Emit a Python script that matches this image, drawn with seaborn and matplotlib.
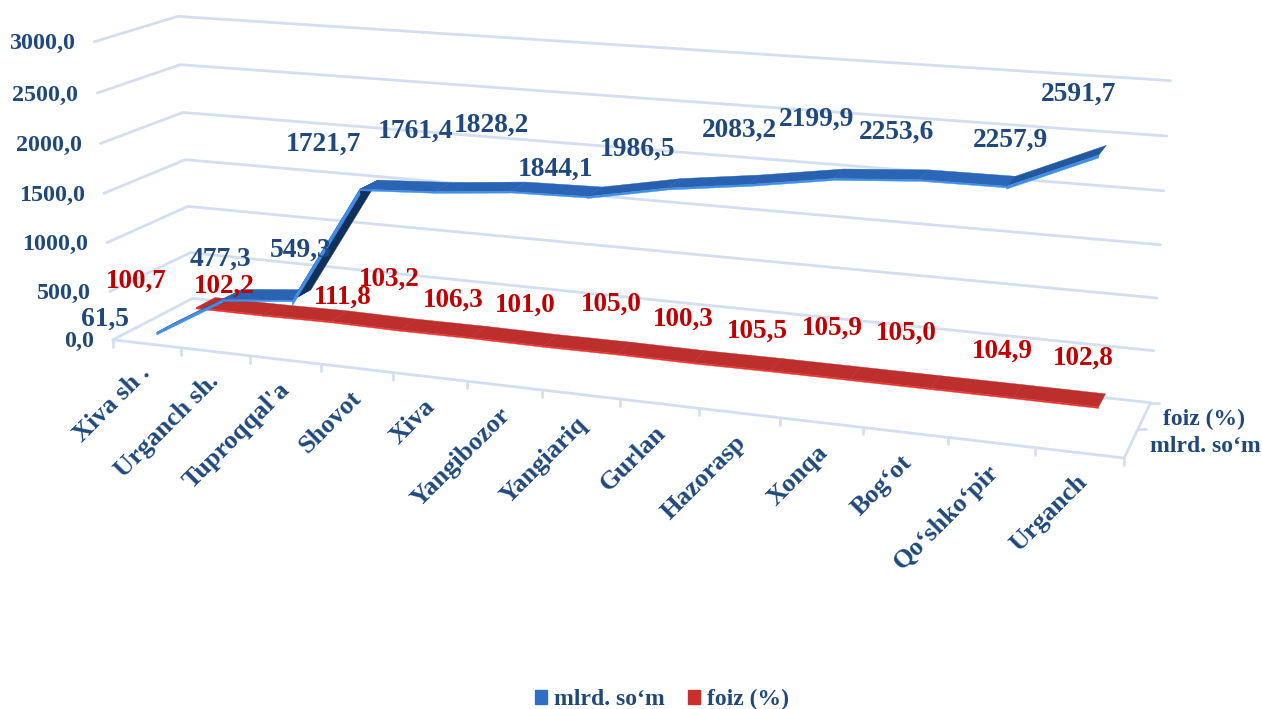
import matplotlib
matplotlib.use("Agg")
import matplotlib.pyplot as plt
from matplotlib.colors import to_rgb
from matplotlib.patches import Patch
import seaborn as sns
import numpy as np
import pandas as pd

categories = ["Xiva sh .", "Urganch sh.", "Tuproqqal'a", "Shovot", "Xiva", "Yangibozor", "Yangiariq",
              "Gurlan", "Hazorasp", "Xonqa", "Bog‘ot", "Qo‘shko‘pir", "Urganch"]
mlrd_som = [61.5, 477.3, 549.3, 1721.7, 1761.4, 1828.2, 1844.1, 1986.5, 2083.2, 2199.9, 2253.6, 2257.9, 2591.7]
foiz = [100.7, 102.2, 111.8, 103.2, 106.3, 101.0, 105.0, 100.3, 105.5, 105.9, 105.0, 104.9, 102.8]
y_ticks = [0, 500, 1000, 1500, 2000, 2500, 3000]
series_names = ["mlrd. so‘m", "foiz (%)"]

# where the label text sits on the picture, in pixels
mlrd_label_pos = [(105, 317), (221, 257), (301, 248), (323, 142), (416, 129), (491, 123), (556, 167),
                  (638, 147), (739, 128), (817, 117), (897, 130), (1011, 138), (1079, 92)]
foiz_label_pos = [(136, 279), (224, 284), (343, 295), (389, 277), (453, 298), (525, 303), (611, 302),
                  (683, 317), (757, 329), (832, 326), (906, 331), (1002, 349), (1083, 356)]

NAVY = "#1f497d"
DARKRED = "#c00000"
GRID = "#d3dff1"
FONT = "Liberation Serif"
TEXT_DY = 2  # matplotlib centres on the box, the ink sits a bit lower in the reference

# Excel 3D box: fit one camera matrix to the corners
# (category position, value, depth) -> pixel
anchors = [
    (0, 0, 0, 113, 339), (0, 500, 0, 109, 291), (0, 1000, 0, 107, 242), (0, 1500, 0, 104, 193),
    (0, 2000, 0, 101, 143), (0, 2500, 0, 97, 93), (0, 3000, 0, 94, 42),
    (0, 0, 2, 193, 298), (0, 500, 2, 190, 252), (0, 1000, 2, 188, 207), (0, 1500, 2, 185, 160),
    (0, 2000, 2, 183, 113), (0, 2500, 2, 180, 65), (0, 3000, 2, 178, 16),
    (13, 0, 2, 1150, 402), (13, 500, 2, 1154, 351), (13, 1000, 2, 1157, 298), (13, 1500, 2, 1161, 244),
    (13, 2000, 2, 1164, 191), (13, 2500, 2, 1167, 136), (13, 3000, 2, 1170, 81),
    (13, 0, 0, 1124, 458), (1, 0, 0, 181, 348), (2, 0, 0, 250, 357), (3, 0, 0, 321, 365), (4, 0, 0, 392, 373),
]


def fit_camera(points):
    rows = []
    for x, y, z, u, v in points:
        X = [x / 13, y / 3000, z / 2, 1]
        rows.append(X + [0, 0, 0, 0] + [-u * c / 1000 for c in X])
        rows.append([0, 0, 0, 0] + X + [-v * c / 1000 for c in X])
    _, _, vt = np.linalg.svd(np.array(rows))
    return vt[-1].reshape(3, 4)


CAM = fit_camera(anchors)


def project(x, y, z):
    p = CAM @ np.array([x / 13, y / 3000, z / 2, 1])
    return 1000 * p[0] / p[2], 1000 * p[1] / p[2]


def mix(c1, c2, t):
    return tuple(a + (b - a) * t for a, b in zip(to_rgb(c1), to_rgb(c2)))


def draw_ribbon(ax, values, z, top, dark, edge, half=0.25, thick=14):
    # one flat strip per segment, plus a thin lit edge on the side facing the viewer
    for i in range(len(values) - 1):
        x0, x1 = i + 0.5, i + 1.5
        y0, y1 = values[i], values[i + 1]
        t = min(max((y1 - y0) / 1200, 0), 1)
        h = thick * (1 + 3 * t)  # the lit side shows more on the steep climb
        face = [project(x0, y0, z - half), project(x1, y1, z - half),
                project(x1, y1, z + half), project(x0, y0, z + half)]
        side = [project(x0, y0, z - half), project(x1, y1, z - half),
                project(x1, y1 - h, z - half), project(x0, y0 - h, z - half)]
        ax.fill(*zip(*face), color=mix(top, dark, t), lw=0.3, zorder=3)
        ax.fill(*zip(*side), color=edge, lw=0.3, zorder=3)


sns.set_theme(style="white")
plt.rcParams["font.family"] = [FONT, "DejaVu Sans"]
plt.rcParams["font.weight"] = "bold"

fig = plt.figure(figsize=(12.62, 7.09), dpi=100)
ax = fig.add_axes([0, 0, 1, 1])

# walls and floor
rows = []
for v in y_ticks:
    for k, pt in enumerate([(0, v, 0), (0, v, 2), (13, v, 2)]):
        px, py = project(*pt)
        rows.append({"line": f"wall{v}", "order": k, "px": px, "py": py})
for k, pt in enumerate([(0, 0, 0), (13, 0, 0), (13, 0, 2)]):
    px, py = project(*pt)
    rows.append({"line": "floor", "order": k, "px": px, "py": py})
for i in range(14):
    px, py = project(i, 0, 0)
    rows.append({"line": f"tick{i}", "order": 0, "px": px, "py": py})
    rows.append({"line": f"tick{i}", "order": 1, "px": px, "py": py + 7})
for d in range(1, 3):
    px, py = project(13, 0, d)
    rows.append({"line": f"dtick{d}", "order": 0, "px": px, "py": py})
    rows.append({"line": f"dtick{d}", "order": 1, "px": px + 8, "py": py})
grid_df = pd.DataFrame(rows)
sns.lineplot(data=grid_df, x="px", y="py", units="line", estimator=None, sort=False,
             color=GRID, lw=2, ax=ax, legend=False, zorder=1)

# series, back one first
draw_ribbon(ax, foiz, 1.5, "#bd2f2d", "#a82422", "#ea3330")
draw_ribbon(ax, mlrd_som, 0.5, "#2b66b8", "#10305a", "#3f8fe8")

# value labels
for val, (px, py) in zip(mlrd_som, mlrd_label_pos):
    ax.text(px, py + TEXT_DY, f"{val:.1f}".replace(".", ","), color=NAVY, fontsize=19.8,
            ha="center", va="center", zorder=5)
for val, (px, py) in zip(foiz, foiz_label_pos):
    ax.text(px, py + TEXT_DY, f"{val:.1f}".replace(".", ","), color=DARKRED, fontsize=19.5,
            ha="center", va="center", zorder=5)

# axis labels
for v in y_ticks:
    px, py = project(0, v, 0)
    ax.text(px - 19, py + TEXT_DY, f"{v:.1f}".replace(".", ","), color=NAVY, fontsize=17.3,
            ha="right", va="center")
for i, name in enumerate(categories):
    px, py = project(i + 0.5, 0, 0)
    ax.text(px - 8 + 0.35 * i, py + 18, name, color=NAVY, fontsize=19, rotation=45, ha="right", va="top",
            rotation_mode="anchor")
ax.text(1204, 417 + TEXT_DY, series_names[1], color=NAVY, fontsize=17, ha="center", va="center")
ax.text(1205, 445 + TEXT_DY, series_names[0], color=NAVY, fontsize=17, ha="center", va="center")

handles = [Patch(color="#2d6fc4", label=series_names[0]), Patch(color="#c92f2d", label=series_names[1])]
fig.legend(handles=handles, loc="center", bbox_to_anchor=(662 / 1262, 1 - 699.5 / 709), ncol=2, frameon=False,
           fontsize=17, labelcolor=NAVY, handlelength=0.52, handleheight=0.52, handletextpad=0.3,
           columnspacing=0.95, borderpad=0, borderaxespad=0)

ax.set_xlim(0, 1262)
ax.set_ylim(709, 0)
ax.axis("off")

fig.savefig("out.png", dpi=100)
